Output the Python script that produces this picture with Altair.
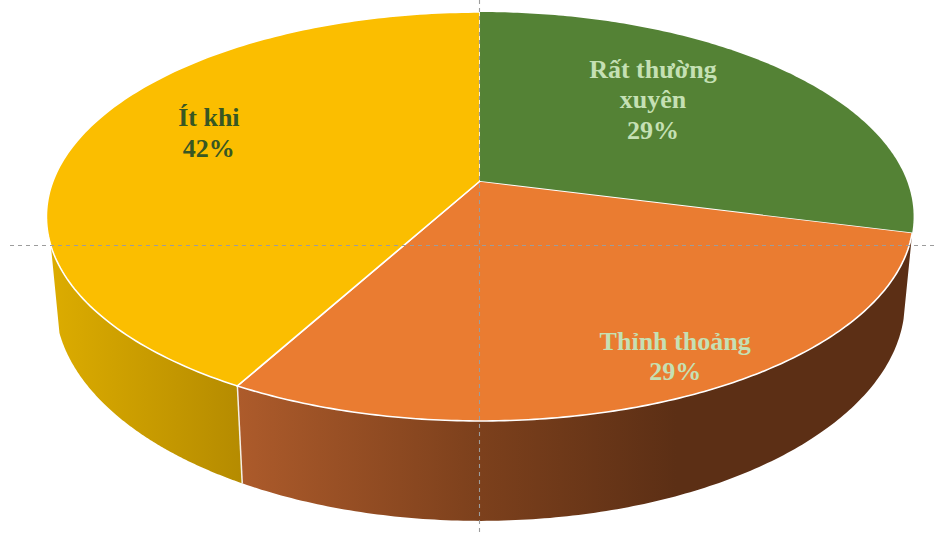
import numpy as np
import altair as alt

# Survey answers and their shares, clockwise from twelve o'clock
categories = ["Rất thường\nxuyên", "Thỉnh thoảng", "Ít khi"]
shares = [29, 29, 42]

# Tilted disc: perspective strength, vertical squash, wall height and wall inset
PERSPECTIVE = 0.1736
SQUASH = 0.4644
WALL = 0.1934
WALL_INSET = 0.98
WALL_LAST_ANGLE = 252.0

# Projection from disc units to the page
UNIT = 427
CENTER = (480, 181)


def top_face(theta):
    t = np.radians(theta)
    u, v = np.sin(t), -np.cos(t)
    d = 1 - PERSPECTIVE * v
    return u / d, SQUASH * v / d


def bottom_face(theta):
    t = np.radians(theta)
    u, v = np.sin(t), -np.cos(t)
    d = 1 - PERSPECTIVE * v
    return WALL_INSET * u / d, (SQUASH * v + WALL) / d


def feature(geom_type, coords):
    return {"type": "Feature", "properties": {},
            "geometry": {"type": geom_type, "coordinates": coords}}


def slice_feature(a0, a1):
    angles = np.linspace(a0, a1, 160)
    ring = [[0.0, 0.0]] + [[float(x), float(y)] for x, y in zip(*top_face(angles))] + [[0.0, 0.0]]
    return feature("Polygon", [ring])


def wall_feature(a0, a1):
    angles = np.linspace(a0, a1, 160)
    upper = [[float(x), float(y)] for x, y in zip(*top_face(angles))]
    lower = [[float(x), float(y)] for x, y in zip(*bottom_face(angles[::-1]))]
    return feature("Polygon", [upper + lower + upper[:1]])


def gradient(*stops):
    return alt.Gradient(gradient="linear", x1=0, x2=1, y1=0, y2=0,
                        stops=[alt.GradientStop(offset=o, color=c) for o, c in stops])


edges = np.cumsum([0] + shares) / sum(shares) * 360
green = slice_feature(edges[0], edges[1])
orange = slice_feature(edges[1], edges[2])
yellow = slice_feature(edges[2], edges[3])
orange_wall = wall_feature(edges[1], edges[2])
yellow_wall = wall_feature(edges[2], WALL_LAST_ANGLE)


def shape(item, **mark):
    return alt.Chart(alt.Data(values=[item])).mark_geoshape(opacity=1, **mark)


walls = [
    shape(orange_wall,
          fill=gradient((0, "#AD5B2B"), (0.36, "#7C401C"), (0.65, "#5C2F15"), (1, "#5C2F15")),
          stroke="#FFFFFF", strokeWidth=0),
    shape(yellow_wall,
          fill=gradient((0, "#DCAC00"), (1, "#B58B00")),
          stroke="#FFFFFF", strokeWidth=0),
]

seam_x, seam_y = top_face(edges[2])
seam_bx, seam_by = bottom_face(edges[2])
seam = shape(feature("LineString", [[float(seam_x), float(seam_y)], [float(seam_bx), float(seam_by)]]),
             filled=False, stroke="#F4EFE6", strokeWidth=1.5)

faces = [
    shape(orange, fill="#EA7C31", stroke="#FFFFFF", strokeWidth=1.6),
    shape(yellow, fill="#FBBE00", stroke="#FFFFFF", strokeWidth=1.6),
    shape(green, fill="#548235"),
]

# Dashed cross-hair running across the whole drawing, centred on pixel rows
guide_x = -0.5 / UNIT
guide_y = 64.5 / UNIT
guides = [
    shape(feature("LineString", [[guide_x, -CENTER[1] / UNIT], [guide_x, (533 - CENTER[1]) / UNIT]]),
          filled=False, stroke="#9C9C9C", strokeWidth=1.1, strokeDash=[4, 4]),
    shape(feature("LineString", [[(10 - CENTER[0]) / UNIT, guide_y], [(938 - CENTER[0]) / UNIT, guide_y]]),
          filled=False, stroke="#9C9C9C", strokeWidth=1.1, strokeDash=[4, 4]),
]

# Label anchors in disc units, one per slice (first text line)
anchors = [(0.405, -0.260), (0.457, 0.377), (-0.635, -0.1475)]
label_colors = ["#C5E0B4", "#C5E0B4", "#385723"]
labels = [
    alt.Chart(alt.Data(values=[{"lon": ax, "lat": ay, "label": f"{name}\n{share}%"}]))
    .mark_text(font="Liberation Serif", fontWeight="bold", fontSize=26, lineHeight=30.5,
               lineBreak="\n", color=color, align="center", baseline="middle")
    .encode(longitude="lon:Q", latitude="lat:Q", text="label:N")
    for name, share, (ax, ay), color in zip(categories, shares, anchors, label_colors)
]

chart = (
    alt.layer(*walls, seam, *faces, *labels, *guides)
    .project(type="identity", scale=UNIT, translate=list(CENTER))
    .properties(width=938, height=533, padding=0, background="#FFFFFF",
                autosize=alt.AutoSizeParams(type="none"))
    .configure_view(stroke=None)
)

chart.save("out.html", embed_options={"renderer": "svg", "actions": False})
